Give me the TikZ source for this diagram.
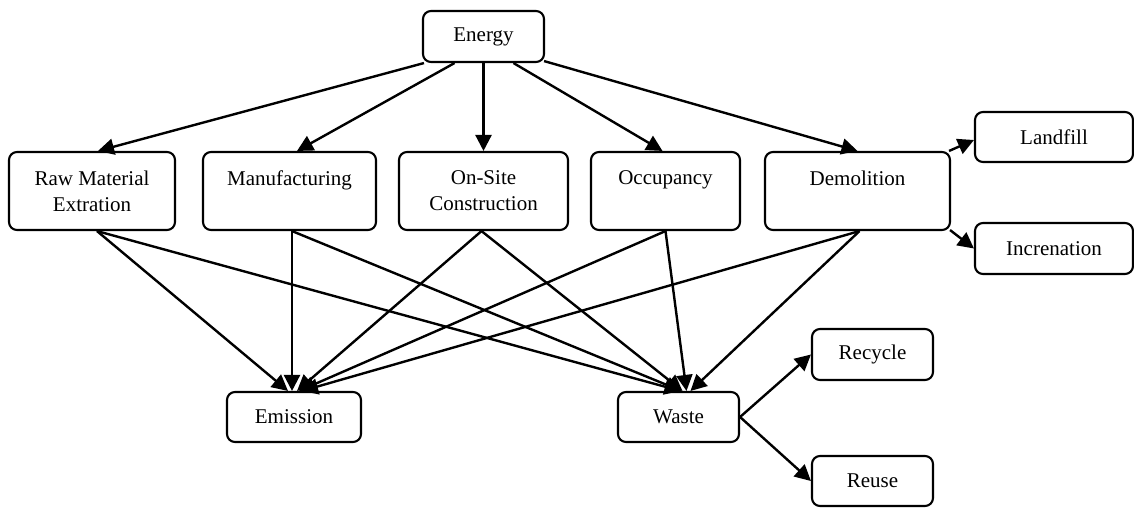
\documentclass[tikz,border=0pt]{standalone}
\usepackage{fontspec}
\setmainfont{Liberation Serif}
\usetikzlibrary{arrows.meta,calc}
\begin{document}
\begin{tikzpicture}[x=1pt,y=-1pt,
  box/.style={draw, rounded corners=8pt, line width=2.1pt, inner sep=0pt, align=center,
    font=\fontsize{21}{26}\selectfont},
  conn/.style={line width=2.4pt, -{Triangle[length=16pt,width=16pt]}}]
\useasboundingbox (0,0) rectangle (1134,507);
% top
\node[box, minimum width=121pt, minimum height=51pt] (energy) at (483.5,36.5) {Energy};
% stages
\node[box, minimum width=166pt, minimum height=78pt] (raw) at (92,191) {Raw Material\\Extration};
\node[box, minimum width=173pt, minimum height=78pt] (manu) at (289.5,191) {Manufacturing\\\mbox{}};
\node[box, minimum width=169pt, minimum height=78pt] (onsite) at (483.5,191) {On-Site\\Construction};
\node[box, minimum width=149pt, minimum height=78pt] (occ) at (665.5,191) {Occupancy\\\mbox{}};
\node[box, minimum width=185pt, minimum height=78pt] (demol) at (857.5,191) {Demolition\\\mbox{}};
% end of life
\node[box, minimum width=158pt, minimum height=50pt] (landfill) at (1054,137) {Landfill};
\node[box, minimum width=158pt, minimum height=51pt] (incren) at (1054,248.5) {Increnation};
% outputs
\node[box, minimum width=134pt, minimum height=50pt] (emission) at (294,417) {Emission};
\node[box, minimum width=121pt, minimum height=50pt] (waste) at (678.5,417) {Waste};
\node[box, minimum width=121pt, minimum height=51pt] (recycle) at (872.5,354.5) {Recycle};
\node[box, minimum width=121pt, minimum height=50pt] (reuse) at (872.5,481) {Reuse};
% energy arrows
\draw[conn] ($(energy.south west)+(2,0)$) -- ($(raw.north)+(6,0)$);
\draw[conn] ($(energy.south)+(-29,0)$) -- ($(manu.north)+(7.5,0)$);
\draw[conn] (energy.south) -- (onsite.north);
\draw[conn] ($(energy.south)+(30,0)$) -- ($(occ.north)+(-3,0)$);
\draw[conn] ($(energy.south east)+(-1,-2)$) -- (demol.north);
% to emission
\draw[conn] ($(raw.south)+(5,0)$) -- ($(emission.north)+(-6,0)$);
\draw[conn] ($(manu.south)+(2.5,0)$) -- ($(emission.north)+(-2,0)$);
\draw[conn] ($(onsite.south)+(-2,0)$) -- ($(emission.north)+(3,0)$);
\draw[conn] (occ.south) -- ($(emission.north)+(5,0)$);
\draw[conn] ($(demol.south)+(2,0)$) -- ($(emission.north)+(8,0)$);
% to waste
\draw[conn] ($(raw.south)+(5,0)$) -- ($(waste.north)+(2,0)$);
\draw[conn] ($(manu.south)+(2.5,0)$) -- ($(waste.north)+(3,0)$);
\draw[conn] ($(onsite.south)+(-2,0)$) -- ($(waste.north)+(4,0)$);
\draw[conn] (occ.south) -- ($(waste.north)+(8,0)$);
\draw[conn] ($(demol.south)+(2,0)$) -- ($(waste.north)+(12,0)$);
% demolition outputs
\draw[conn] ($(demol.north east)+(-2,0)$) -- ($(landfill.west)+(0,3)$);
\draw[conn] ($(demol.south east)+(-1,-1)$) -- (incren.west);
% waste outputs
\draw[conn] (waste.east) -- (recycle.west);
\draw[conn] (waste.east) -- (reuse.west);
\end{tikzpicture}
\end{document}
